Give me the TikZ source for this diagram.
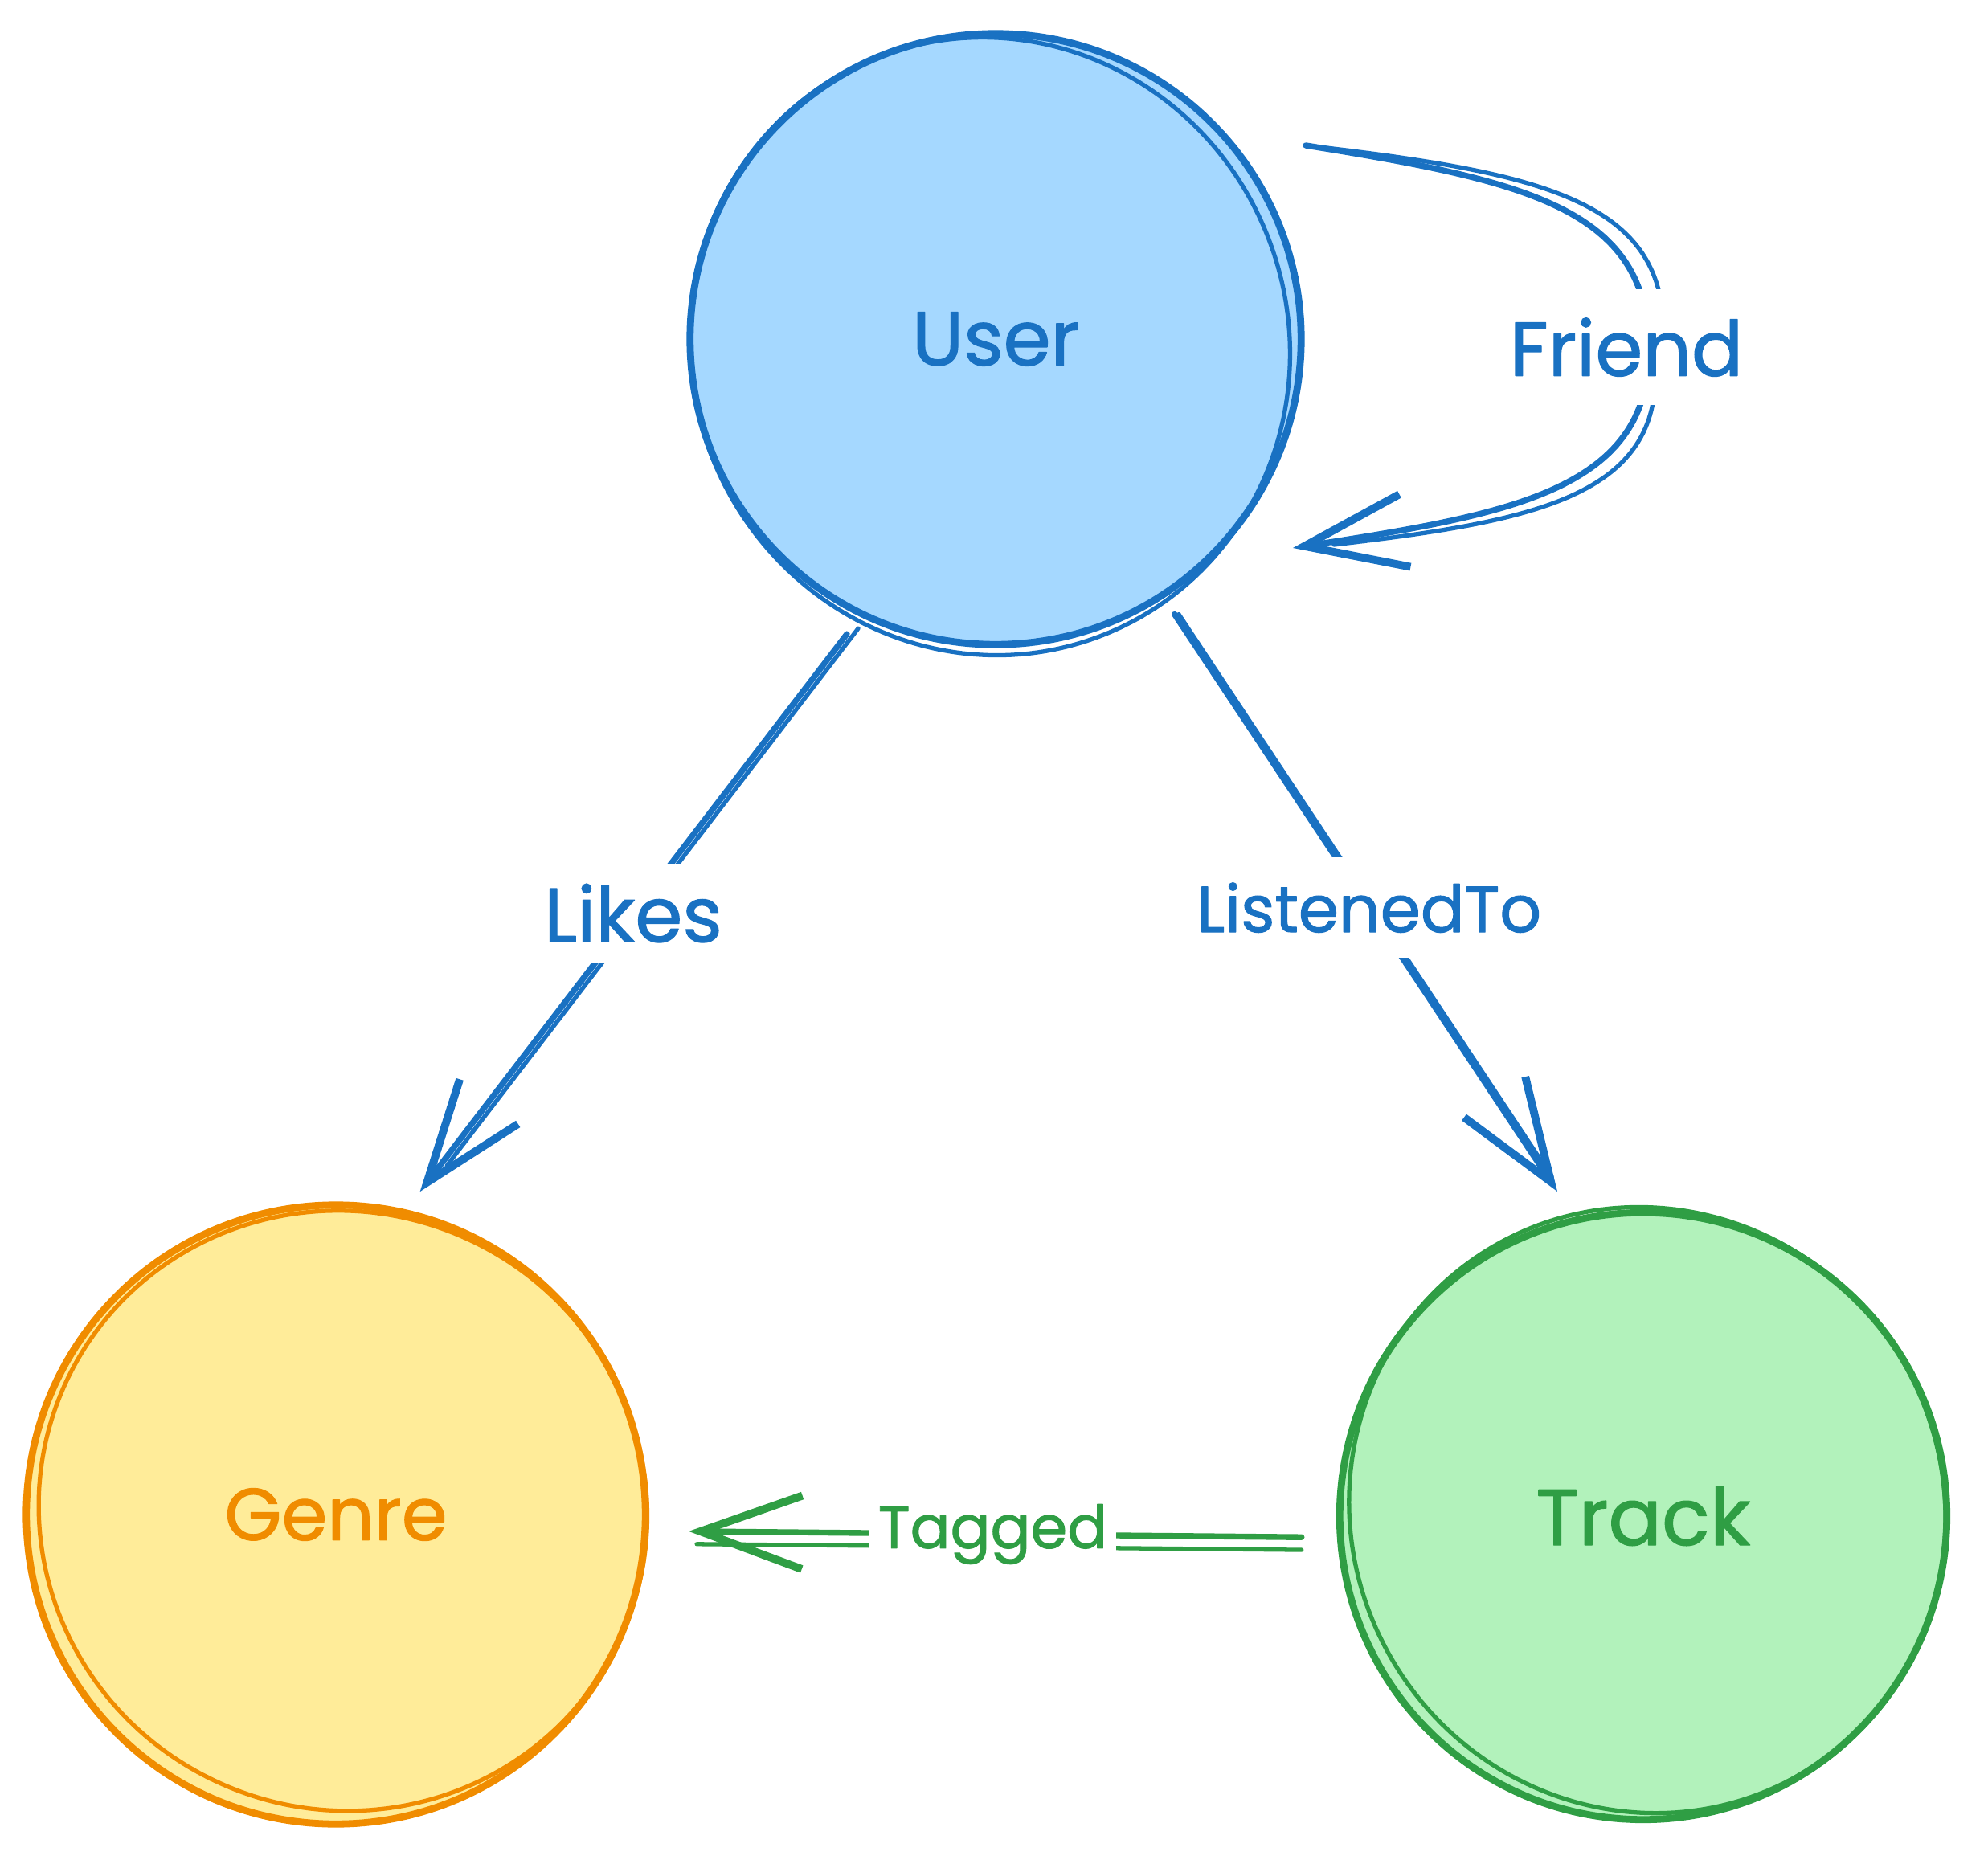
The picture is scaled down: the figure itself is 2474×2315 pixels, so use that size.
\documentclass[tikz,border=0pt]{standalone}
\usepackage{fontspec}
\setmainfont{Poppins}[BoldFont=*, BoldFeatures={FakeBold=1.3}]
\usetikzlibrary{arrows.meta,calc}
\definecolor{ublue}{HTML}{1971C2}
\definecolor{ufill}{HTML}{A5D8FF}
\definecolor{gor}{HTML}{F08C00}
\definecolor{gfill}{HTML}{FFEC99}
\definecolor{tgr}{HTML}{2F9E44}
\definecolor{tfill}{HTML}{B2F2BB}
\newcommand{\fsz}[1]{\fontsize{#1}{#1}\selectfont\bfseries}
\begin{document}
\begin{tikzpicture}[x=0.01cm,y=-0.01cm, line cap=round, line join=round,
  ent/.style={circle, inner sep=0pt, line width=2.5pt},
  sk/.style={line width=1.5pt},
  rel/.style={line width=2.1pt, -{Straight Barb[length=36pt,width=26pt,line width=2.8pt]}},
  lbl/.style={fill=white, inner xsep=3pt, inner ysep=7pt},
  slbl/.style={fill=white, inner xsep=3pt, inner ysep=9pt}
]
\useasboundingbox (0,0) rectangle (2474,2315);

% entities
\node[ent, minimum size=7.6cm, fill=ufill, draw=ublue, text=ublue, font=\fsz{27}] (user) at (1239,422) {User};
\node[ent, minimum size=7.7cm, fill=gfill, draw=gor, text=gor, font=\fsz{26}] (genre) at (418,1885) {Genre};
\node[ent, minimum size=7.55cm, fill=tfill, draw=tgr, text=tgr, font=\fsz{28}] (track) at (2045,1887) {Track};

% sketchy second strokes
\draw[sk, ublue, rotate around={20:(user)}] ($(user)+(-10,6)$) ellipse[x radius=372, y radius=386];
\draw[sk, gor, rotate around={-25:(genre)}] ($(genre)+(6,-8)$) ellipse[x radius=380, y radius=372];
\draw[sk, tgr, rotate around={30:(track)}] ($(track)+(8,-4)$) ellipse[x radius=368, y radius=380];

% friend loop end points
\coordinate (fs) at (1625,181);
\coordinate (fe) at (1609,682);

% second strokes of connectors
\draw[sk, ublue, shorten <=0.27cm, shorten >=0.6cm, transform canvas={xshift=4pt, yshift=2pt}] (user.-116) -- (genre.77);
\draw[sk, ublue, shorten <=0.24cm, shorten >=0.6cm, transform canvas={xshift=1.5pt}] (user.-57) -- (track.103.4);
\draw[sk, tgr, shorten <=0.44cm, shorten >=0.6cm, transform canvas={yshift=-4.5pt}] (track.184.5) -- (genre.-3.8);
\draw[sk, ublue] (fs) .. controls (1920,215) and (2075,250) .. (2070,420);
\draw[sk, ublue] (2060,470) .. controls (2058,620) and (1900,650) .. (1660,678);

% connectors
\draw[rel, ublue, shorten <=0.27cm, shorten >=0.28cm] (user.-116) -- node[lbl, text=ublue, font=\fsz{27}] (likes) {Likes} (genre.77);
\draw[rel, ublue, shorten <=0.24cm, shorten >=0.38cm] (user.-57) -- node[slbl, text=ublue, font=\fsz{23}] (listened) {ListenedTo} (track.103.4);
\draw[rel, tgr, shorten <=0.44cm, shorten >=0.5cm] (track.184.5) -- node[slbl, text=tgr, font=\fsz{21}] (tagged) {Tagged} (genre.-3.8);
\draw[rel, ublue] (fs) .. controls (1900,225) and (2050,260) .. (2052,432)
  node[lbl, inner ysep=10pt, xshift=-0.28cm, text=ublue, font=\fsz{27}] (friend) {Friend}
  .. controls (2055,610) and (1880,640) .. (fe);
\end{tikzpicture}
\end{document}
